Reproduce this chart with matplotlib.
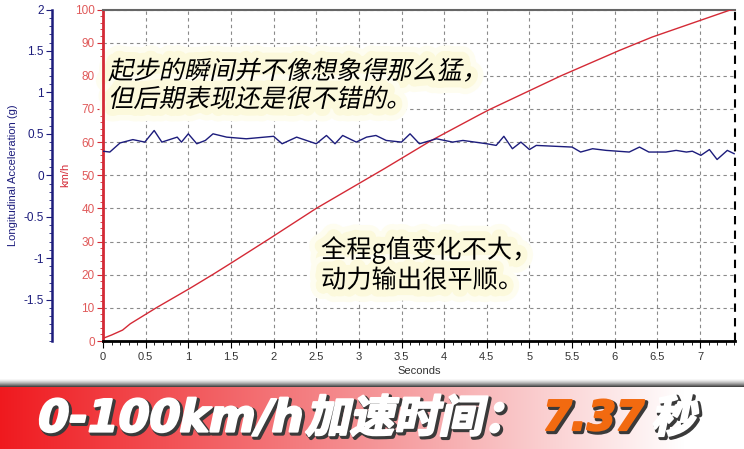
import numpy as np
import matplotlib
matplotlib.use("Agg")
import matplotlib.pyplot as plt
from matplotlib.colors import to_rgb
from matplotlib.ticker import MultipleLocator, FixedLocator
from matplotlib.patheffects import AbstractPathEffect
from matplotlib.transforms import Affine2D

# speed trace (km/h)
speed_t = [0, 0.1, 0.23, 0.32, 0.63, 1.02, 1.29, 1.52, 1.96, 2.5, 3.3, 3.85,
           4.41, 4.53, 5.37, 6.05, 6.44, 7.36, 7.4]
speed_kmh = [0.8, 1.8, 3.3, 5.2, 10.1, 15.9, 20.1, 23.8, 31.0, 40.0, 52.0, 60.5,
             68.2, 69.8, 80.0, 87.6, 91.7, 99.9, 100.0]

# longitudinal acceleration trace (g)
acc_t = [0, 0.08, 0.2, 0.35, 0.49, 0.6, 0.69, 0.87, 0.92, 1.0, 1.1, 1.2, 1.29,
         1.45, 1.68, 2.0, 2.1, 2.27, 2.5, 2.62, 2.72, 2.81, 2.97, 3.09, 3.2,
         3.32, 3.5, 3.6, 3.71, 3.91, 4.1, 4.22, 4.5, 4.61, 4.7, 4.8, 4.9, 5.0,
         5.08, 5.5, 5.6, 5.74, 5.9, 6.17, 6.29, 6.4, 6.6, 6.72, 6.84, 6.91,
         7.01, 7.11, 7.2, 7.32, 7.4]
acc_g = [0.29, 0.28, 0.39, 0.43, 0.40, 0.54, 0.40, 0.46, 0.40, 0.50, 0.38, 0.42,
         0.50, 0.46, 0.44, 0.47, 0.38, 0.46, 0.38, 0.48, 0.38, 0.48, 0.40, 0.46,
         0.48, 0.42, 0.40, 0.50, 0.38, 0.44, 0.40, 0.42, 0.38, 0.36, 0.47, 0.32,
         0.40, 0.31, 0.36, 0.34, 0.28, 0.32, 0.30, 0.28, 0.34, 0.28, 0.28, 0.30,
         0.28, 0.29, 0.24, 0.31, 0.19, 0.30, 0.26]

note_top = "起步的瞬间并不像想象得那么猛，\n但后期表现还是很不错的。"
note_mid = "全程g值变化不大，\n动力输出很平顺。"
banner_parts = [("0-100km/h", "white", "DejaVu Sans", 35, 32),
                ("加速时间：", "white", "Noto Sans CJK SC", 305, 32),
                ("7.37", "#f26a10", "DejaVu Sans", 540, 29.5),
                ("秒", "white", "Noto Sans CJK SC", 651, 32)]

W, H = 744, 449
RED = "#d42a36"
NAVY = "#1c1c7c"


class Slant(AbstractPathEffect):
    """draws text sheared like an italic, optionally as a wide stroke"""
    def __init__(self, deg=12, lw=None, color=None, offset=(0, 0)):
        super().__init__(offset)
        self.deg = deg
        self.lw = lw
        self.color = color

    def draw_path(self, renderer, gc, tpath, affine, rgbFace=None):
        gc0 = renderer.new_gc()
        gc0.copy_properties(gc)
        tr = Affine2D().skew_deg(self.deg, 0) + affine + self._offset_transform(renderer)
        face = rgbFace
        if self.lw:
            gc0.set_linewidth(self.lw)
            gc0.set_foreground(self.color)
            gc0.set_joinstyle("round")
            face = to_rgb(self.color)
        renderer.draw_path(gc0, tpath, tr, face)
        gc0.restore()


def fx(px):
    return px / W


def fy(py):
    return 1 - py / H


def note(x, y, s, deg, spacing):
    kw = dict(fontsize=18.2, family="Noto Sans CJK SC", va="top", ha="left",
              linespacing=spacing, color="black", transform=fig.transFigure)
    # halo sits above the grid but under spines and traces
    ax.text(fx(x), fy(y), s, zorder=2.2,
            path_effects=[Slant(deg, 18, "#fefdf0"), Slant(deg, 10, "#fcf9dc")], **kw)
    fig.text(fx(x), fy(y), s, zorder=6, path_effects=[Slant(deg)], **kw)


fig = plt.figure(figsize=(W / 100, H / 100), dpi=100)
fig.patch.set_facecolor("white")

# bottom banner with gradient
bax = fig.add_axes([0, 0, 1, (H - 378) / H])
rows, cols = 71, W
img = np.ones((rows, cols, 3))
xs = np.linspace(0, 1, cols)
left = np.array([0.94, 0.10, 0.12])
mid = np.array([0.96, 0.58, 0.59])
r = np.where(xs[:, None] < 0.5,
             left + (mid - left) * (xs[:, None] / 0.5),
             mid + (1 - mid) * np.clip((xs[:, None] - 0.5) / 0.42, 0, 1))
img[9:, :, :] = r[None, :, :]
for i in range(9):
    shade = 1 - (i / 8) ** 1.5 * 0.72
    img[i, :, :] = shade
bax.imshow(img, aspect="auto", extent=(0, 1, 0, 1), interpolation="bilinear")
bax.set_axis_off()

# main chart
ax = fig.add_axes([fx(103), fy(341), fx(735 - 103), (341 - 9.5) / H])
ax.plot(speed_t, speed_kmh, color=RED, lw=1.0, zorder=3)
ax.set_xlim(0, 7.41)
ax.set_ylim(0, 100)
ax.xaxis.set_major_locator(MultipleLocator(0.5))
ax.xaxis.set_minor_locator(MultipleLocator(0.1))
ax.yaxis.set_major_locator(MultipleLocator(10))
ax.yaxis.set_minor_locator(MultipleLocator(2))
ax.xaxis.set_major_formatter(plt.FuncFormatter(lambda v, p: "%g" % v))
ax.grid(True, which="major", color="#8a8a8a", ls=(0, (3, 3)), lw=0.8)
ax.tick_params(axis="x", which="major", length=5, width=0.8, labelsize=8,
               labelcolor="#333333", pad=3)
ax.tick_params(axis="x", which="minor", length=3, width=0.6)
ax.tick_params(axis="y", which="major", length=4, color=RED, labelsize=8.5,
               labelcolor="#e05a5a", pad=2)
ax.tick_params(axis="y", which="minor", length=2, color=RED)
for lab in ax.get_xticklabels() + ax.get_yticklabels():
    lab.set_family("Liberation Sans")
ax.spines["left"].set_color(RED)
ax.spines["left"].set_linewidth(2)
ax.spines["bottom"].set_linewidth(2)
ax.spines["top"].set_color("#666666")
ax.spines["top"].set_linewidth(1.5)
ax.spines["right"].set_visible(False)
ax.axvline(7.41, color="black", ls=(0, (4, 3)), lw=1.5, clip_on=False)
ax.set_xlabel("Seconds", fontsize=8, family="Liberation Sans", color="#333333",
              labelpad=3)
ax.set_ylabel("km/h", fontsize=8, family="Liberation Sans", color=RED, labelpad=3)

# acceleration axis on the left
ax2 = ax.twinx()
ax2.plot(acc_t, acc_g, color=NAVY, lw=1.0, zorder=3)
ax2.set_ylim(-2, 2)
ax2.yaxis.set_ticks_position("left")
ax2.yaxis.set_label_position("left")
ax2.spines["left"].set_position(("outward", 36.7))
ax2.spines["left"].set_color(NAVY)
ax2.spines["left"].set_linewidth(1.8)
for s in ["right", "top", "bottom"]:
    ax2.spines[s].set_visible(False)
ax2.yaxis.set_major_locator(FixedLocator([-1.5, -1, -0.5, 0, 0.5, 1, 1.5, 2]))
ax2.yaxis.set_minor_locator(MultipleLocator(0.1))
ax2.yaxis.set_major_formatter(plt.FuncFormatter(lambda v, p: "%g" % v))
ax2.tick_params(axis="y", which="major", length=4, color=NAVY, labelsize=8.5,
                labelcolor=NAVY, pad=2)
ax2.tick_params(axis="y", which="minor", length=2, color=NAVY)
for lab in ax2.get_yticklabels():
    lab.set_family("Liberation Sans")
ax2.set_ylabel("Longitudinal Acceleration (g)", fontsize=8, family="Liberation Sans",
               color=NAVY, labelpad=4)

# notes
note(108, 59, note_top, 12, 1.1)
note(321, 236, note_mid, 0, 1.2)

# banner title
for txt, col, fam, x0, size in banner_parts:
    fx_list = [Slant(12, 3.0, "#3a3a3a", offset=(1.5, -1.5)),
               Slant(12, 1.6, col),
               Slant(12)]
    fig.text(fx(x0), fy(419), txt, fontsize=size, family=fam, weight=900,
             color=col, va="center", ha="left", path_effects=fx_list)

fig.savefig("out.png", dpi=100)
